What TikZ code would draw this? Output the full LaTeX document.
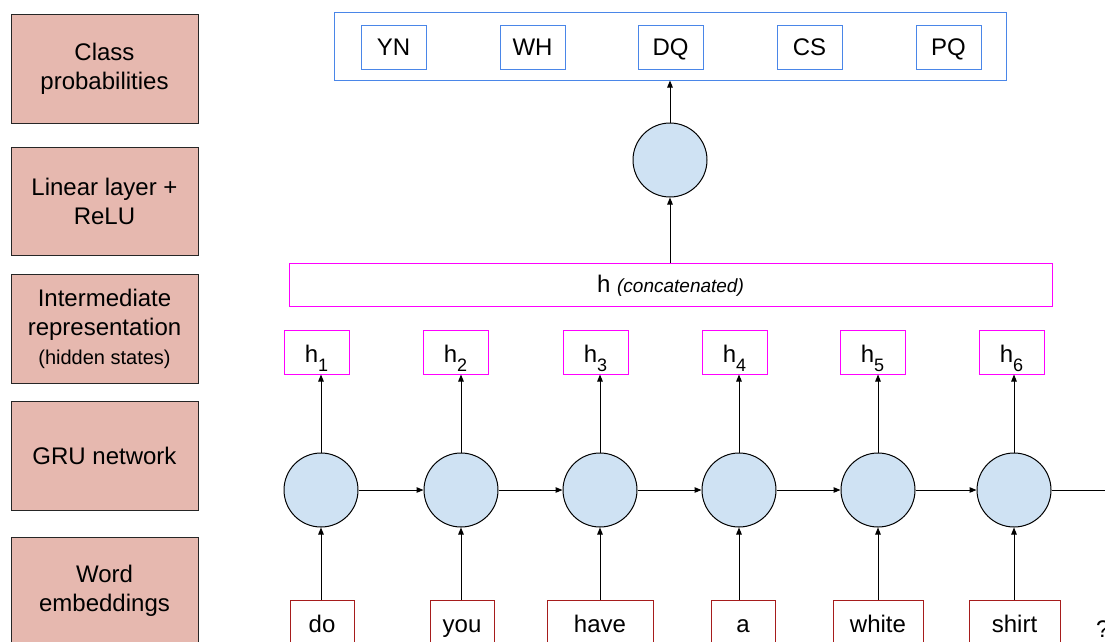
\documentclass[tikz,border=0pt]{standalone}
\usepackage{fontspec}
\setmainfont{Liberation Sans}
\usetikzlibrary{arrows.meta}
\definecolor{labfill}{HTML}{E6B8AF}
\definecolor{cellfill}{HTML}{CFE2F3}
\definecolor{classblue}{HTML}{4A86E8}
\definecolor{hmag}{HTML}{FF00FF}
\definecolor{wordred}{HTML}{A61C1C}
\newcommand{\hsub}[1]{h\raisebox{-9pt}{\fontsize{18}{18}\selectfont #1}}
\tikzset{
  lab/.style={draw=black!85, line width=0.9pt, fill=labfill, minimum width=187pt, align=center,
    font=\fontsize{24}{29}\selectfont, inner sep=0pt},
  cls/.style={draw=classblue, line width=1pt, minimum width=65pt, minimum height=44pt, inner sep=0pt,
    text height=20pt, text depth=4pt, font=\fontsize{24}{24}\selectfont},
  cell/.style={circle, draw=black, line width=1pt, fill=cellfill, minimum size=74pt, inner sep=0pt},
  hbox/.style={draw=hmag, line width=1pt, minimum width=65pt, minimum height=44pt, inner sep=0pt,
    text height=21pt, text depth=1pt, font=\fontsize{24}{24}\selectfont},
  word/.style={draw=wordred, line width=1pt, minimum height=44pt, inner sep=0pt,
    text height=21pt, text depth=1pt, font=\fontsize{24}{24}\selectfont},
  conn/.style={draw=black, line width=1pt, -{Triangle[length=7pt,width=5.5pt]}},
}
\begin{document}
\begin{tikzpicture}[x=1pt,y=-1pt]
\useasboundingbox (0,0) rectangle (1105,641);
% left labels
\node[lab, minimum height=109pt] (l1) at (104.5,68.5) {Class\\probabilities};
\node[lab, minimum height=108pt] (l2) at (104.5,201) {Linear layer +\\ReLU};
\node[lab, minimum height=109pt] (l3) at (104.5,328.5) {Intermediate\\representation\\{\fontsize{20}{24}\selectfont (hidden states)}};
\node[lab, minimum height=109pt] (l4) at (104.5,455.5) {GRU network};
\node[lab, minimum height=108pt] (l5) at (104.5,591) {Word\\embeddings};
% class probabilities
\node[draw=classblue, line width=1pt, minimum width=672pt, minimum height=68pt, inner sep=0pt] (cp) at (670,46) {};
\node[cls] (yn) at (393.5,47) {YN};
\node[cls] (wh) at (532.5,47) {WH};
\node[cls] (dq) at (670.5,47) {DQ};
\node[cls] (cs) at (809.5,47) {CS};
\node[cls] (pq) at (948.5,47) {PQ};
% linear layer
\node[cell] (lin) at (670,160) {};
% concatenated
\node[draw=hmag, line width=1pt, minimum width=763pt, minimum height=43pt, inner sep=0pt,
  text height=20pt, text depth=4pt,
  font=\fontsize{24}{24}\selectfont] (hc) at (670.5,284.5) {h {\itshape\fontsize{19}{19}\selectfont (concatenated)}};
% hidden states
\node[hbox] (h1) at (316.5,352) {\hsub{1}};
\node[hbox] (h2) at (455.5,352) {\hsub{2}};
\node[hbox] (h3) at (595.5,352) {\hsub{3}};
\node[hbox] (h4) at (734.5,352) {\hsub{4}};
\node[hbox] (h5) at (872.5,352) {\hsub{5}};
\node[hbox] (h6) at (1011.5,352) {\hsub{6}};
% GRU cells
\node[cell] (c1) at (321,490) {};
\node[cell] (c2) at (461,490) {};
\node[cell] (c3) at (600,490) {};
\node[cell] (c4) at (739,490) {};
\node[cell] (c5) at (878,490) {};
\node[cell] (c6) at (1014,490) {};
\coordinate (out) at (1116,490);
% words
\node[word, minimum width=64pt] (w1) at (322,622) {do};
\node[word, minimum width=64pt] (w2) at (462,622) {you};
\node[word, minimum width=106pt] (w3) at (600,622) {have};
\node[word, minimum width=64pt] (w4) at (743,622) {a};
\node[word, minimum width=90pt] (w5) at (878,622) {white};
\node[word, minimum width=91pt] (w6) at (1014.5,622) {shirt};
\node[font=\fontsize{24}{24}\selectfont, anchor=west, inner sep=0pt] (q) at (1096,629) {?};
% connectors
\draw[conn] (lin) -- (cp.south -| lin);
\draw[conn] (hc.north -| lin) -- (lin);
\foreach \i in {1,...,6}{
  \draw[conn] (c\i) -- (c\i |- h\i.south);
  \draw[conn] (c\i |- w\i.north) -- (c\i);
}
\draw[conn] (c1) -- (c2);
\draw[conn] (c2) -- (c3);
\draw[conn] (c3) -- (c4);
\draw[conn] (c4) -- (c5);
\draw[conn] (c5) -- (c6);
\draw[conn] (c6) -- (out);
\end{tikzpicture}
\end{document}
